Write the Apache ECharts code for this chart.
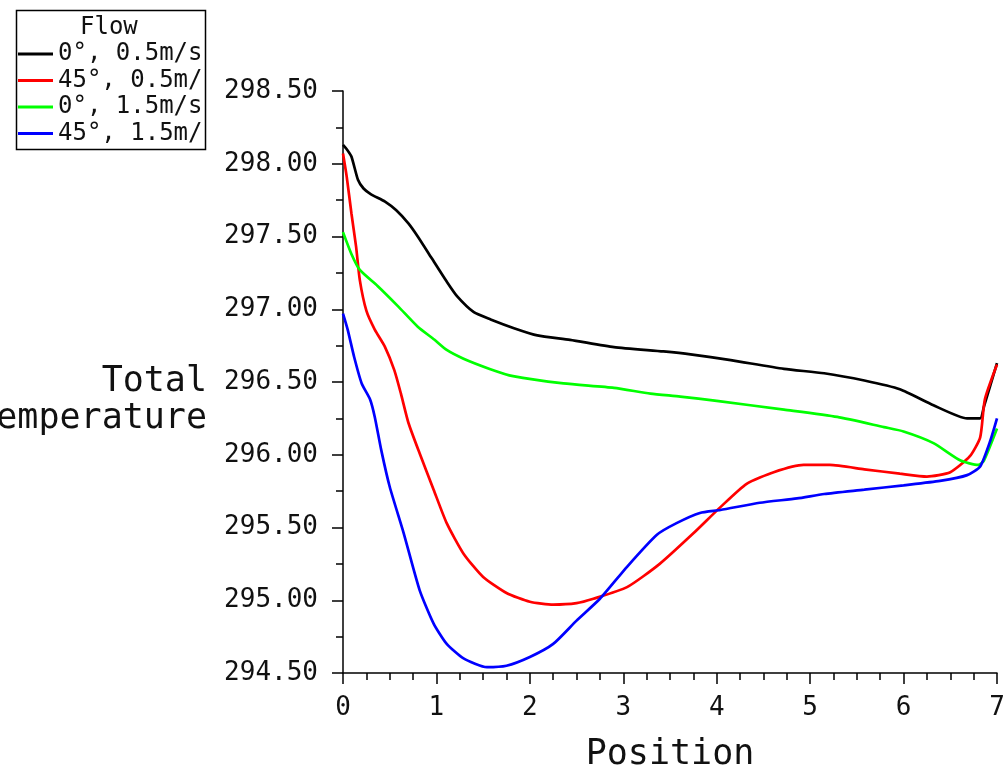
<!DOCTYPE html>
<html>
<head>
<meta charset="utf-8">
<title>Total Temperature vs Position</title>
<script src="https://cdn.jsdelivr.net/npm/echarts@6/dist/echarts.min.js"></script>
<style>
  html, body { margin: 0; padding: 0; background: #ffffff; }
  #chart { width: 1007px; height: 776px; }
</style>
</head>
<body>
<div id="chart"></div>
<script>
// Series names (flow angle, inlet velocity)
const seriesNames = ['0°, 0.5m/s', '45°, 0.5m/s', '0°, 1.5m/s', '45°, 1.5m/s'];
const seriesColors = ['#000000', '#ff0000', '#00ff00', '#0000ff'];

// Total temperature [position, K] along the line for each case
const flow0deg05 = [
  [0, 298.13], [0.04, 298.10], [0.09, 298.05], [0.16, 297.89], [0.22, 297.83],
  [0.30, 297.79], [0.45, 297.74], [0.57, 297.68], [0.70, 297.59], [0.80, 297.50],
  [0.95, 297.35], [1.11, 297.19], [1.22, 297.09], [1.40, 296.98], [1.58, 296.93],
  [1.83, 296.87], [2.08, 296.82], [2.43, 296.79], [2.90, 296.74], [3.43, 296.71],
  [3.72, 296.69], [4.15, 296.65], [4.72, 296.59], [5.15, 296.56], [5.58, 296.51],
  [5.96, 296.45], [6.32, 296.34], [6.68, 296.25], [6.82, 296.25], [6.86, 296.33],
  [7.00, 296.63]
];
const flow45deg05 = [
  [0, 298.07], [0.04, 297.91], [0.09, 297.66], [0.14, 297.43], [0.18, 297.20],
  [0.25, 296.99], [0.34, 296.86], [0.45, 296.74], [0.55, 296.58], [0.62, 296.42],
  [0.70, 296.22], [0.82, 296.01], [0.97, 295.76], [1.11, 295.53], [1.29, 295.32],
  [1.50, 295.16], [1.75, 295.05], [2.00, 294.99], [2.25, 294.97], [2.50, 294.98],
  [2.68, 295.01], [3.04, 295.09], [3.39, 295.25], [3.75, 295.46], [4.04, 295.64],
  [4.32, 295.80], [4.61, 295.88], [4.93, 295.93], [5.21, 295.93], [5.58, 295.90],
  [5.96, 295.87], [6.25, 295.85], [6.50, 295.88], [6.71, 295.99], [6.82, 296.12],
  [6.87, 296.38], [7.00, 296.62]
];
const flow0deg15 = [
  [0, 297.53], [0.09, 297.38], [0.18, 297.27], [0.37, 297.16], [0.59, 297.02],
  [0.80, 296.88], [0.98, 296.79], [1.11, 296.72], [1.29, 296.66], [1.57, 296.59],
  [1.82, 296.54], [2.36, 296.49], [2.90, 296.46], [3.29, 296.42], [3.61, 296.40],
  [4.00, 296.37], [4.72, 296.31], [5.29, 296.26], [5.79, 296.19], [6.00, 296.16],
  [6.32, 296.08], [6.61, 295.96], [6.80, 295.93], [6.86, 295.96], [7.00, 296.18]
];
const flow45deg15 = [
  [0, 296.97], [0.05, 296.86], [0.12, 296.67], [0.20, 296.49], [0.29, 296.38],
  [0.34, 296.26], [0.41, 296.03], [0.50, 295.78], [0.65, 295.46], [0.82, 295.07],
  [0.97, 294.84], [1.11, 294.70], [1.29, 294.60], [1.54, 294.54], [1.75, 294.55],
  [2.00, 294.61], [2.25, 294.70], [2.50, 294.86], [2.75, 295.01], [3.04, 295.23],
  [3.36, 295.45], [3.57, 295.53], [3.82, 295.60], [4.04, 295.62], [4.46, 295.67],
  [4.86, 295.70], [5.15, 295.73], [5.58, 295.76], [6.00, 295.79], [6.39, 295.82],
  [6.68, 295.86], [6.82, 295.92], [6.93, 296.10], [7.00, 296.25]
];
const seriesData = [flow0deg05, flow45deg05, flow0deg15, flow45deg15];

// Axis ranges
const xMin = 0, xMax = 7, xStep = 1;
const yMin = 294.5, yMax = 298.5, yStep = 0.5;

const FONT = 'DejaVu Sans Mono';

const chart = echarts.init(document.getElementById('chart'), null, { renderer: 'canvas' });

chart.setOption({
  backgroundColor: '#ffffff',
  animation: false,
  title: {
    text: 'Flow',
    left: 80,
    top: 16,
    padding: 0,
    textStyle: { fontFamily: FONT, fontSize: 24, fontWeight: 'normal', color: '#111', lineHeight: 24 }
  },
  // legend frame and the two-line quantity label beside the y axis
  graphic: [
    {
      type: 'rect',
      left: 14, top: 8,
      shape: { width: 189, height: 139 },
      style: { fill: 'none', stroke: '#000', lineWidth: 1.5 },
      silent: true
    },
    {
      type: 'text',
      x: 207, y: 363,
      style: {
        text: 'Total\nTemperature',
        fontFamily: FONT, fontSize: 35, lineHeight: 37,
        fill: '#111', align: 'right', verticalAlign: 'top'
      },
      silent: true
    }
  ],
  legend: {
    orient: 'vertical',
    left: 14,
    top: 8,
    padding: [34, 0, 3, 4],
    itemGap: 2.5,
    itemWidth: 35,
    itemHeight: 3,
    icon: 'rect',
    borderWidth: 0,
    selectedMode: false,
    data: seriesNames,
    textStyle: {
      fontFamily: FONT, fontSize: 24, color: '#111', lineHeight: 24,
      width: 152, overflow: 'truncate', ellipsis: ''
    }
  },
  grid: { left: 343, right: 10, top: 91, bottom: 103, containLabel: false, outerBoundsMode: 'none' },
  xAxis: {
    type: 'value',
    min: xMin, max: xMax, interval: xStep,
    name: 'Position',
    nameLocation: 'middle',
    nameGap: 64,
    nameTextStyle: { fontFamily: FONT, fontSize: 35, color: '#111', lineHeight: 36 },
    axisLine: { show: true, lineStyle: { color: '#000', width: 1.5 } },
    axisTick: { show: true, length: 11, lineStyle: { color: '#000', width: 1.5 } },
    minorTick: { show: true, splitNumber: 4, length: 7, lineStyle: { color: '#000', width: 1.5 } },
    splitLine: { show: false },
    axisLabel: { margin: 22, fontFamily: FONT, fontSize: 26, color: '#111' }
  },
  yAxis: {
    type: 'value',
    min: yMin, max: yMax, interval: yStep,
    axisLine: { show: true, lineStyle: { color: '#000', width: 1.5 } },
    axisTick: { show: true, length: 11, lineStyle: { color: '#000', width: 1.5 } },
    minorTick: { show: true, splitNumber: 2, length: 7, lineStyle: { color: '#000', width: 1.5 } },
    splitLine: { show: false },
    axisLabel: {
      margin: 25, fontFamily: FONT, fontSize: 26, color: '#111',
      formatter: v => v.toFixed(2)
    }
  },
  series: seriesNames.map((name, i) => ({
    name: name,
    type: 'line',
    data: seriesData[i],
    showSymbol: false,
    smooth: 0.2,
    lineStyle: { color: seriesColors[i], width: 2.7 },
    itemStyle: { color: seriesColors[i] }
  }))
});
</script>
</body>
</html>
